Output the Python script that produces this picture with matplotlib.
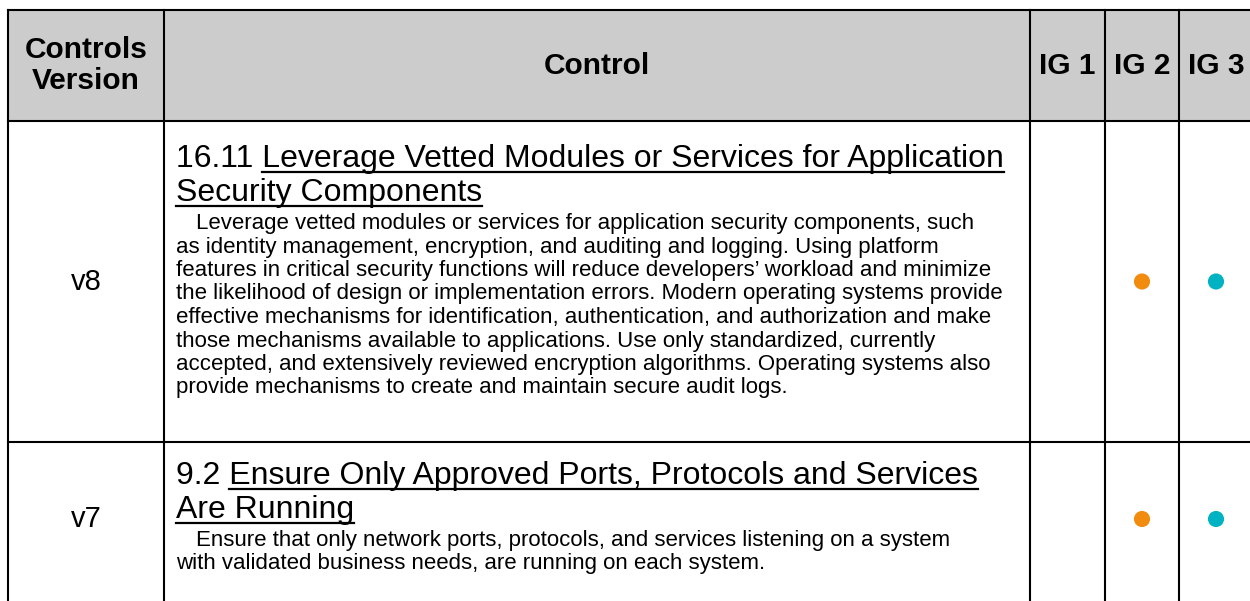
import matplotlib.pyplot as plt
from matplotlib.patches import Rectangle

plt.rcParams['font.family'] = ['Liberation Sans', 'DejaVu Sans']

# table content
headers = ['Controls\nVersion', 'Control', 'IG 1', 'IG 2', 'IG 3']
versions = ['v8', 'v7']
control_ids = ['16.11', '9.2']
title_lines = [
    ['Leverage Vetted Modules or Services for Application', 'Security Components'],
    ['Ensure Only Approved Ports, Protocols and Services', 'Are Running'],
]
body_lines = [
    ['Leverage vetted modules or services for application security components, such',
     'as identity management, encryption, and auditing and logging. Using platform',
     'features in critical security functions will reduce developers\u2019 workload and minimize',
     'the likelihood of design or implementation errors. Modern operating systems provide',
     'effective mechanisms for identification, authentication, and authorization and make',
     'those mechanisms available to applications. Use only standardized, currently',
     'accepted, and extensively reviewed encryption algorithms. Operating systems also',
     'provide mechanisms to create and maintain secure audit logs.'],
    ['Ensure that only network ports, protocols, and services listening on a system',
     'with validated business needs, are running on each system.'],
]
ig1 = [False, False]
ig2 = [True, True]
ig3 = [True, True]

# layout in pixels
col_edges = [8, 164, 1030, 1105, 1179, 1253]
row_edges = [10, 121, 442, 700]
row_mid = [281.5, 519]
title_base = [167, 484]
line_w = 1.5

fig = plt.figure(figsize=(12.5, 6.01), dpi=100)
ax = fig.add_axes([0, 0, 1, 1])
ax.set_xlim(0, 1250)
ax.set_ylim(601, 0)
ax.axis('off')

# header background
ax.add_patch(Rectangle((col_edges[0], row_edges[0]), col_edges[-1] - col_edges[0],
                       row_edges[1] - row_edges[0], facecolor='#cccccc', edgecolor='none'))

# grid
for y in row_edges:
    ax.plot([col_edges[0], col_edges[-1]], [y, y], color='black', lw=line_w, solid_capstyle='projecting')
for x in col_edges:
    ax.plot([x, x], [row_edges[0], row_edges[-1]], color='black', lw=line_w, solid_capstyle='projecting')

# header text
hdr_y = (row_edges[0] + row_edges[1]) / 2
for i, h in enumerate(headers):
    cx = (col_edges[i] + col_edges[i + 1]) / 2
    ax.text(cx, hdr_y, h, ha='center', va='center', fontsize=21.5, fontweight='bold',
            linespacing=1.15)

fig.canvas.draw()
renderer = fig.canvas.get_renderer()
inv = ax.transData.inverted()


def text_width(s, size):
    t = ax.text(0, 0, s, fontsize=size)
    bb = t.get_window_extent(renderer).transformed(inv)
    t.remove()
    return bb.x1 - bb.x0


title_size = 23
body_size = 16
x_left = 176
space_w = text_width('x x', title_size) - text_width('xx', title_size)

for r in range(len(versions)):
    ax.text(86, row_mid[r], versions[r], ha='center', va='center', fontsize=21)

    # title with underlined link part
    y = title_base[r]
    for k, line in enumerate(title_lines[r]):
        if k == 0:
            prefix = control_ids[r]
            t = ax.text(x_left, y, prefix + ' ' + line, va='baseline', fontsize=title_size)
            x0 = x_left + text_width(prefix, title_size) + space_w
        else:
            t = ax.text(x_left, y, line, va='baseline', fontsize=title_size)
            x0 = x_left
        bb = t.get_window_extent(renderer).transformed(inv)
        ax.plot([x0, bb.x1], [y + 5, y + 5], color='black', lw=1.6)
        y += 34

    # description
    y = y - 34 + 28
    for k, line in enumerate(body_lines[r]):
        ax.text(x_left + 20 * (k == 0), y, line, va='baseline', fontsize=body_size)
        y += 23.5

    # implementation group dots
    for flags, ci, color in [(ig1, 2, '#f28c0f'), (ig2, 3, '#f28c0f'), (ig3, 4, '#00b2c2')]:
        if flags[r]:
            ax.scatter((col_edges[ci] + col_edges[ci + 1]) / 2, row_mid[r], s=135,
                       color=color, edgecolors='none', zorder=3)

fig.savefig('out.png', dpi=100)
